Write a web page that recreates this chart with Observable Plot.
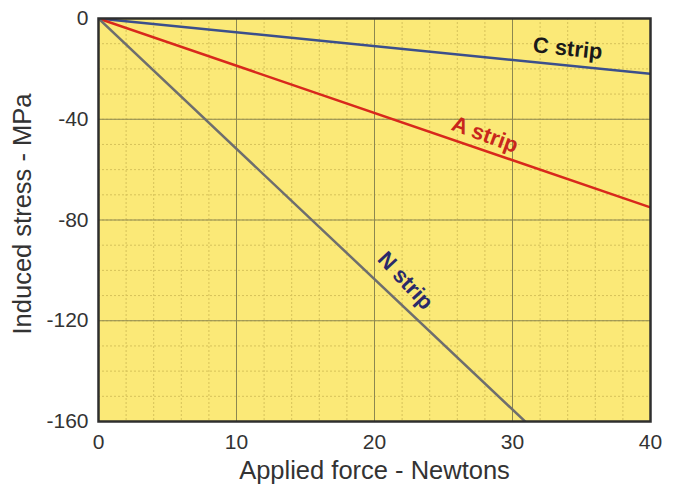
<!DOCTYPE html>
<html>
<head>
<meta charset="utf-8">
<script src="https://cdn.jsdelivr.net/npm/d3@7"></script>
<script src="https://cdn.jsdelivr.net/npm/@observablehq/plot@0.6"></script>
<style>
  html, body { margin: 0; padding: 0; background: #fff; }
  #chart svg { display: block; }
</style>
</head>
<body>
<div id="chart"></div>
<script>
// Data
const force = [0, 40];                 // Applied force (N)
const cStrip = [0, -22];               // Induced stress (MPa)
const aStrip = [0, -75];
const nStrip = [0, -207];
const xTicks = [0, 10, 20, 30, 40];
const yTicks = [0, -40, -80, -120, -160];
const xMinor = d3.range(0, 40.01, 2);
const yMinor = d3.range(-160, 0.01, 10);
const seriesNames = ["C strip", "A strip", "N strip"];
const labelAt = [34, 28, 20.5];        // force where each label sits

const seriesVals = [cStrip, aStrip, nStrip];
const colors = ["#3b4f8c", "#d8281c", "#6e6e6e"];
const labelColors = ["#1a1a1a", "#c8261c", "#2a2a6a"];
const rows = [];
seriesNames.forEach((s, i) => force.forEach((f, j) => rows.push({series: s, force: f, stress: seriesVals[i][j]})));
const labels = seriesNames.map((s, i) => {
  const slope = seriesVals[i][1] / force[1];
  return {series: s, force: labelAt[i], stress: slope * labelAt[i]};
});

const chart = Plot.plot({
  width: 675,
  height: 486,
  marginLeft: 98,
  marginRight: 25,
  marginTop: 18,
  marginBottom: 65,
  style: {fontFamily: "Liberation Sans, Arial, sans-serif", fontSize: "21px", color: "#333", background: "#fff"},
  x: {domain: [0, 40]},
  y: {domain: [-160, 0]},
  marks: [
    Plot.frame({fill: "#fbe977"}),
    Plot.ruleX(xMinor, {stroke: "#d6c25a", strokeWidth: 1, strokeDasharray: "2,2"}),
    Plot.ruleY(yMinor, {stroke: "#d6c25a", strokeWidth: 1, strokeDasharray: "2,2"}),
    Plot.ruleX(xTicks, {stroke: "#8c8750", strokeWidth: 1}),
    Plot.ruleY(yTicks, {stroke: "#8c8750", strokeWidth: 1}),
    Plot.line(rows, {x: "force", y: "stress", z: "series", stroke: d => colors[seriesNames.indexOf(d.series)], strokeWidth: 2.5, clip: true}),
    Plot.text([labels[0]], {x: "force", y: "stress", text: "series", fill: labelColors[0], fontWeight: "bold", fontSize: 22, rotate: 6, dy: -17}),
    Plot.text([labels[1]], {x: "force", y: "stress", text: "series", fill: labelColors[1], fontWeight: "bold", fontSize: 22, rotate: 20, dy: -16}),
    Plot.text([labels[2]], {x: "force", y: "stress", text: "series", fill: labelColors[2], fontWeight: "bold", fontSize: 22, rotate: 47, dx: 24, dy: -5}),
    Plot.frame({stroke: "#2e2e2e", strokeWidth: 2.5}),
    Plot.axisX(xTicks, {tickSize: 0, tickPadding: 13, fontSize: 21, fill: "#333", label: null}),
    Plot.axisY(yTicks, {tickSize: 0, tickPadding: 10, fontSize: 21, fill: "#333", label: null, tickFormat: d => String(d)}),
    Plot.text(["Applied force - Newtons"], {frameAnchor: "bottom", textAnchor: "middle", lineAnchor: "bottom", dy: 57, text: d => d, fontSize: 25.5, fill: "#333"}),
    Plot.text(["Induced stress - MPa"], {frameAnchor: "left", textAnchor: "middle", lineAnchor: "middle", dx: -76, dy: -6, rotate: -90, text: d => d, fontSize: 25.5, fill: "#333"})
  ]
});
document.getElementById("chart").appendChild(chart);
</script>
</body>
</html>
